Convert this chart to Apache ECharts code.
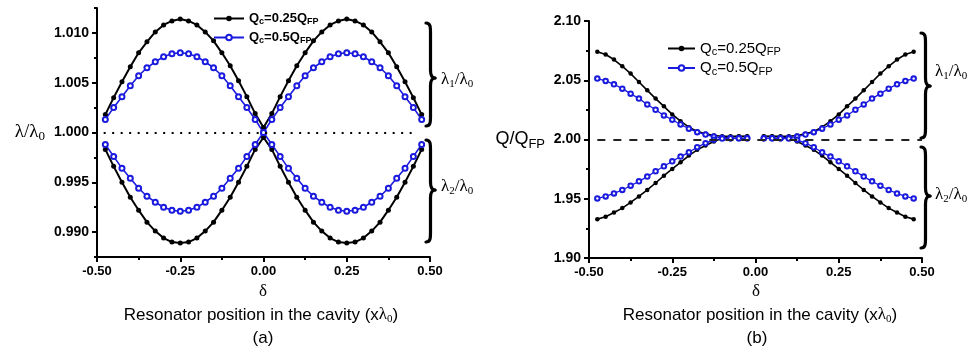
<!DOCTYPE html>
<html>
<head>
<meta charset="utf-8">
<script src="https://cdn.jsdelivr.net/npm/echarts@6/dist/echarts.min.js"></script>
<style>
  html, body { margin: 0; padding: 0; background: #fff; }
  #main { width: 974px; height: 352px; }
</style>
</head>
<body>
<div id="main"></div>
<script>
// resonator position, units of lambda0
var delta = [-0.475, -0.45, -0.425, -0.4, -0.375, -0.35, -0.325, -0.3, -0.275, -0.25,
  -0.225, -0.2, -0.175, -0.15, -0.125, -0.1, -0.075, -0.05, -0.025, 0,
  0.025, 0.05, 0.075, 0.1, 0.125, 0.15, 0.175, 0.2, 0.225, 0.25,
  0.275, 0.3, 0.325, 0.35, 0.375, 0.4, 0.425, 0.45, 0.475];

// (a) lambda/lambda0
var lam1Q025 = [1.0018, 1.0035, 1.0051, 1.0066, 1.0080, 1.0091, 1.0101, 1.0108, 1.0112, 1.0114,
  1.0112, 1.0108, 1.0101, 1.0092, 1.0080, 1.0067, 1.0052, 1.0036, 1.0019, 1.0005,
  1.0019, 1.0036, 1.0052, 1.0067, 1.0080, 1.0092, 1.0101, 1.0108, 1.0112, 1.0114,
  1.0112, 1.0108, 1.0101, 1.0091, 1.0080, 1.0066, 1.0051, 1.0035, 1.0018];
var lam1Q05 = [1.0013, 1.0025, 1.0036, 1.0047, 1.0057, 1.0065, 1.0071, 1.0076, 1.0079, 1.0080,
  1.0079, 1.0076, 1.0071, 1.0065, 1.0057, 1.0047, 1.0036, 1.0025, 1.0013, 1.0000,
  1.0013, 1.0025, 1.0036, 1.0047, 1.0057, 1.0065, 1.0071, 1.0076, 1.0079, 1.0080,
  1.0079, 1.0076, 1.0071, 1.0065, 1.0057, 1.0047, 1.0036, 1.0025, 1.0013];
var lam2Q025 = [0.9983, 0.9966, 0.9950, 0.9935, 0.9922, 0.9910, 0.9901, 0.9894, 0.9890, 0.9889,
  0.9890, 0.9894, 0.9901, 0.9910, 0.9922, 0.9935, 0.9950, 0.9966, 0.9983, 0.9995,
  0.9983, 0.9966, 0.9950, 0.9935, 0.9922, 0.9910, 0.9901, 0.9894, 0.9890, 0.9889,
  0.9890, 0.9894, 0.9901, 0.9910, 0.9922, 0.9935, 0.9950, 0.9966, 0.9983];
var lam2Q05 = [0.9988, 0.9976, 0.9964, 0.9954, 0.9944, 0.9936, 0.9930, 0.9925, 0.9922, 0.9921,
  0.9922, 0.9925, 0.9930, 0.9936, 0.9944, 0.9954, 0.9964, 0.9976, 0.9988, 1.0000,
  0.9988, 0.9976, 0.9964, 0.9954, 0.9944, 0.9936, 0.9930, 0.9925, 0.9922, 0.9921,
  0.9922, 0.9925, 0.9930, 0.9936, 0.9944, 0.9954, 0.9964, 0.9976, 0.9988];

// (b) Q/QFP  (no point at delta = 0)
var q1Q025 = [2.0740, 2.0717, 2.0675, 2.0618, 2.0556, 2.0485, 2.0415, 2.0345, 2.0280, 2.0212,
  2.0155, 2.0104, 2.0068, 2.0048, 2.0034, 2.0028, 2.0028, 2.0028, 2.0028, null,
  2.0028, 2.0028, 2.0028, 2.0028, 2.0034, 2.0048, 2.0068, 2.0104, 2.0155, 2.0212,
  2.0280, 2.0345, 2.0415, 2.0485, 2.0556, 2.0618, 2.0675, 2.0717, 2.0740];
var q1Q05 = [2.0514, 2.0494, 2.0466, 2.0429, 2.0387, 2.0345, 2.0296, 2.0251, 2.0203, 2.0167,
  2.0127, 2.0091, 2.0062, 2.0042, 2.0025, 2.0014, 2.0010, 2.0010, 2.0010, null,
  2.0010, 2.0010, 2.0010, 2.0014, 2.0025, 2.0042, 2.0062, 2.0091, 2.0127, 2.0167,
  2.0203, 2.0251, 2.0296, 2.0345, 2.0387, 2.0429, 2.0466, 2.0494, 2.0514];
var q2Q025 = [1.9328, 1.9348, 1.9384, 1.9421, 1.9469, 1.9520, 1.9574, 1.9633, 1.9695, 1.9752,
  1.9808, 1.9864, 1.9913, 1.9949, 1.9983, 2.0010, 2.0022, 2.0025, 2.0025, null,
  2.0025, 2.0025, 2.0022, 2.0010, 1.9983, 1.9949, 1.9913, 1.9864, 1.9808, 1.9752,
  1.9695, 1.9633, 1.9574, 1.9520, 1.9469, 1.9421, 1.9384, 1.9348, 1.9328];
var q2Q05 = [1.9503, 1.9520, 1.9545, 1.9574, 1.9610, 1.9647, 1.9687, 1.9732, 1.9774, 1.9816,
  1.9856, 1.9892, 1.9935, 1.9969, 1.9997, 2.0008, 2.0010, 2.0010, 2.0010, null,
  2.0010, 2.0010, 2.0010, 2.0008, 1.9997, 1.9969, 1.9935, 1.9892, 1.9856, 1.9816,
  1.9774, 1.9732, 1.9687, 1.9647, 1.9610, 1.9574, 1.9545, 1.9520, 1.9503];

// tick values
var yTicksA = [0.990, 0.995, 1.000, 1.005, 1.010];
var yMinorA = [0.9875, 0.9925, 0.9975, 1.0025, 1.0075, 1.0125];

var SANS = '"Liberation Sans", Arial, sans-serif';
var SERIF = '"Liberation Serif", "Times New Roman", serif';
var BLUE = '#1a1ade';

var chart = echarts.init(document.getElementById('main'), null, {renderer: 'canvas'});

function pairs(arr) {
  return delta.map(function (d, i) { return [d, arr[i] === null ? '-' : arr[i]]; });
}

function line(name, arr, color, filled, gi, w, size) {
  return {
    name: name,
    type: 'line',
    xAxisIndex: gi,
    yAxisIndex: gi === 0 ? 0 : 2,
    data: pairs(arr),
    symbol: filled ? 'circle' : 'emptyCircle',
    symbolSize: size,
    showAllSymbol: true,
    connectNulls: false,
    lineStyle: {color: color, width: w},
    itemStyle: {color: color, borderWidth: filled ? 0 : 1.2},
    emphasis: {disabled: true}
  };
}

var legRichA = {
  m: {fontFamily: SANS, fontWeight: 'bold', fontSize: 13, color: '#000'},
  s: {fontFamily: SANS, fontWeight: 'bold', fontSize: 9, color: '#000', padding: [6, 0, 0, 0]}
};
var legRichB = {
  m: {fontFamily: SANS, fontSize: 15, color: '#000'},
  s: {fontFamily: SANS, fontSize: 11, color: '#000', padding: [7, 0, 0, 0]}
};
function legFmt(name) {
  return name === 'Qc=0.25QFP'
    ? '{m|Q}{s|c}{m|=0.25Q}{s|FP}'
    : '{m|Q}{s|c}{m|=0.5Q}{s|FP}';
}

// curly brace made of bezier pieces, pointing right
function brace(x, t, b, m) {
  var w = 9, h = w / 2;
  var st = {stroke: '#000', lineWidth: 3.2, fill: null, lineCap: 'round'};
  function bz(x1, y1, c1x, c1y, c2x, c2y, x2, y2) {
    return {type: 'bezierCurve', shape: {x1: x1, y1: y1, cpx1: c1x, cpy1: c1y, cpx2: c2x, cpy2: c2y, x2: x2, y2: y2}, style: st};
  }
  function ln(x1, y1, x2, y2) {
    return {type: 'line', shape: {x1: x1, y1: y1, x2: x2, y2: y2}, style: st};
  }
  return {
    type: 'group',
    children: [
      bz(x, t, x + h, t, x + h, t + 4, x + h, t + 10),
      ln(x + h, t + 10, x + h, m - 8),
      bz(x + h, m - 8, x + h, m - 3, x + h + 1, m, x + w, m),
      bz(x + w, m, x + h + 1, m, x + h, m + 3, x + h, m + 8),
      ln(x + h, m + 8, x + h, b - 10),
      bz(x + h, b - 10, x + h, b - 4, x + h, b, x, b)
    ]
  };
}

var labRich = {
  l: {fontFamily: SERIF, fontSize: 17, color: '#222'},
  s: {fontFamily: SERIF, fontSize: 11, color: '#222', padding: [8, 0, 0, 0]}
};
var capRich = {
  t: {fontFamily: SANS, fontSize: 17, color: '#000'},
  l: {fontFamily: SERIF, fontSize: 17, color: '#000'},
  s: {fontFamily: SERIF, fontSize: 11, color: '#000', padding: [8, 0, 0, 0]}
};

function txt(x, y, text, rich, align) {
  return {type: 'text', x: x, y: y,
    style: {text: text, rich: rich, align: align || 'center', verticalAlign: 'middle'}};
}

var xAxisBase = {
  type: 'value', min: -0.5, max: 0.5, interval: 0.25,
  axisLine: {onZero: false, lineStyle: {color: '#000', width: 2}},
  axisTick: {inside: false, length: 5, lineStyle: {color: '#000', width: 2}},
  minorTick: {show: true, splitNumber: 2, length: 3, lineStyle: {color: '#000', width: 2}},
  splitLine: {show: false},
  axisLabel: {color: '#000', fontFamily: SANS, fontWeight: 'bold', fontSize: 13, margin: 8,
    formatter: function (v) { return v.toFixed(2); }}
};

var option = {
  animation: false,
  backgroundColor: '#fff',
  grid: [
    {left: 97, top: 8, width: 333, height: 249},
    {left: 589, top: 21, width: 333, height: 237}
  ],
  legend: [
    {left: 208, top: 7, orient: 'vertical', itemWidth: 30, itemHeight: 7, itemGap: 5,
      data: ['Qc=0.25QFP', 'Qc=0.5QFP'], formatter: legFmt, selectedMode: false,
      textStyle: {color: '#000', rich: legRichA}},
    {left: 662, top: 36, orient: 'vertical', itemWidth: 27, itemHeight: 7, itemGap: 3,
      data: ['Qc=0.25QFP', 'Qc=0.5QFP'], formatter: legFmt, selectedMode: false,
      textStyle: {color: '#000', rich: legRichB}}
  ],
  xAxis: [
    Object.assign({gridIndex: 0}, xAxisBase),
    Object.assign({gridIndex: 1}, xAxisBase)
  ],
  yAxis: [
    {
      type: 'value', gridIndex: 0, min: 0.9875, max: 1.0125, position: 'left',
      name: '{l|λ/λ}{s|0}', nameLocation: 'middle', nameRotate: 0, nameGap: 52,
      nameTextStyle: {rich: {
        l: {fontFamily: SERIF, fontSize: 19, color: '#000'},
        s: {fontFamily: SERIF, fontSize: 13, color: '#000', padding: [9, 0, 0, 0]}
      }},
      axisLine: {onZero: false, lineStyle: {color: '#000', width: 2}},
      axisTick: {length: 5, customValues: yTicksA, lineStyle: {color: '#000', width: 2}},
      splitLine: {show: false},
      axisLabel: {customValues: yTicksA, color: '#000', fontFamily: SANS, fontWeight: 'bold', fontSize: 14,
        formatter: function (v) { return v.toFixed(3); }}
    },
    {
      type: 'value', gridIndex: 0, min: 0.9875, max: 1.0125, position: 'left',
      axisLine: {show: false, onZero: false},
      axisTick: {length: 3, customValues: yMinorA, lineStyle: {color: '#000', width: 2}},
      splitLine: {show: false},
      axisLabel: {show: false}
    },
    {
      type: 'value', gridIndex: 1, min: 1.90, max: 2.10, interval: 0.05, position: 'left',
      name: '{l|Q/Q}{s|FP}', nameLocation: 'middle', nameRotate: 0, nameGap: 44,
      nameTextStyle: {rich: {
        l: {fontFamily: SANS, fontSize: 18, color: '#000'},
        s: {fontFamily: SANS, fontSize: 13, color: '#000', padding: [9, 0, 0, 0]}
      }},
      axisLine: {onZero: false, lineStyle: {color: '#000', width: 2}},
      axisTick: {length: 5, lineStyle: {color: '#000', width: 2}},
      minorTick: {show: true, splitNumber: 2, length: 3, lineStyle: {color: '#000', width: 2}},
      splitLine: {show: false},
      axisLabel: {color: '#000', fontFamily: SANS, fontWeight: 'bold', fontSize: 14,
        formatter: function (v) { return v.toFixed(2); }}
    }
  ],
  series: [
    Object.assign(line('Qc=0.25QFP', lam1Q025, '#000', true, 0, 2, 5), {
      markLine: {
        silent: true, symbol: 'none', label: {show: false},
        lineStyle: {color: '#000', width: 2, type: [2, 6.5]},
        data: [[{coord: [-0.48, 1.0]}, {coord: [0.46, 1.0]}]]
      }
    }),
    line('Qc=0.25QFP', lam2Q025, '#000', true, 0, 2, 5),
    line('Qc=0.5QFP', lam1Q05, BLUE, false, 0, 1.6, 5),
    line('Qc=0.5QFP', lam2Q05, BLUE, false, 0, 1.6, 5),
    Object.assign(line('Qc=0.25QFP', q1Q025, '#000', true, 1, 1.6, 4.5), {
      markLine: {
        silent: true, symbol: 'none', label: {show: false},
        lineStyle: {color: '#222', width: 2, type: [8, 8]},
        data: [[{coord: [-0.475, 2.0]}, {coord: [0.5, 2.0]}]]
      }
    }),
    line('Qc=0.25QFP', q2Q025, '#000', true, 1, 1.6, 4.5),
    line('Qc=0.5QFP', q1Q05, BLUE, false, 1, 1.3, 4.5),
    line('Qc=0.5QFP', q2Q05, BLUE, false, 1, 1.3, 4.5)
  ],
  graphic: [
    brace(426, 23, 126, 78),
    brace(426, 140, 242, 190),
    txt(441, 80, '{l|λ}{s|1}{l|/λ}{s|0}', labRich, 'left'),
    txt(441, 187, '{l|λ}{s|2}{l|/λ}{s|0}', labRich, 'left'),
    brace(921, 33, 138, 86),
    brace(921, 147, 248, 196),
    txt(935, 72, '{l|λ}{s|1}{l|/λ}{s|0}', labRich, 'left'),
    txt(935, 195, '{l|λ}{s|2}{l|/λ}{s|0}', labRich, 'left'),
    txt(263, 292, '{l|δ}', capRich),
    txt(261, 315, '{t|Resonator position in the cavity (x}{l|λ}{s|0}{t|)}', capRich),
    txt(263, 338, '{t|(a)}', capRich),
    txt(756, 292, '{l|δ}', capRich),
    txt(760, 315, '{t|Resonator position in the cavity (x}{l|λ}{s|0}{t|)}', capRich),
    txt(757, 338, '{t|(b)}', capRich)
  ]
};

chart.setOption(option);
</script>
</body>
</html>
